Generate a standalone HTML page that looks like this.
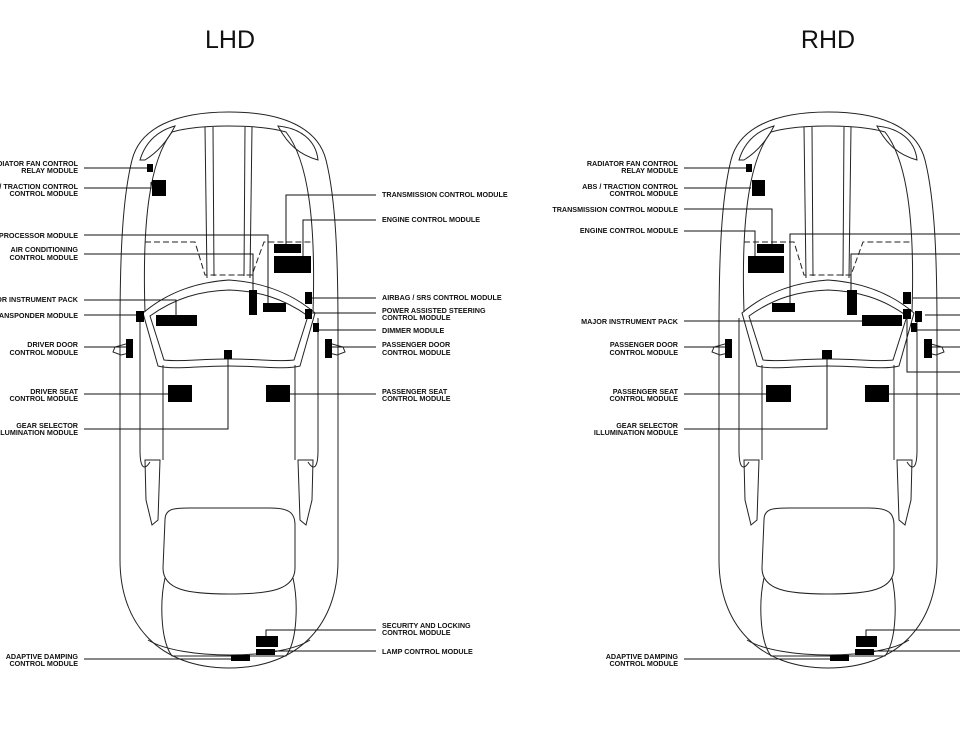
<!DOCTYPE html>
<html><head><meta charset="utf-8"><style>
html,body{margin:0;padding:0;background:#fff;}
svg{display:block;}
text{font-family:"Liberation Sans",sans-serif;font-size:7.2px;font-weight:bold;fill:#111;}
.t{font-size:25px;font-weight:normal;fill:#111;}
</style></head><body>
<svg width="960" height="733" viewBox="0 0 960 733" xmlns="http://www.w3.org/2000/svg">
<defs>
<g id="car" fill="none" stroke="#222" stroke-width="1">
<path d="M229,112 C175,112 140,128 132,160 C122,200 120,260 120,330 L120,560 C120,625 160,668 229,668 C298,668 338,625 338,560 L338,330 C338,260 336,200 326,160 C318,128 283,112 229,112 Z"/>
<path d="M145,312 C142,220 150,160 172,132 C200,124 258,124 286,132 C308,160 316,220 313,312"/>
<path d="M140,160 C146,140 160,130 175,126 C168,140 158,152 145,160 Z"/>
<path d="M278,126 C300,128 316,140 318,160 C300,155 288,145 278,126 Z"/>
<path d="M205,127 L207,278 M213,127 L214,276 M245,127 L244,276 M252,127 L250,278"/>
<path d="M145,242 L195,242 L205,275 L252,275 L264,242 L313,242" stroke-dasharray="6,3"/>
<path d="M143,313 C170,290 200,282 229,280 C258,282 288,290 315,313 L300,366 C285,370 260,366 229,366 C198,366 172,370 158,366 Z"/>
<path d="M150,316 C175,298 200,291 229,290 C258,291 283,298 308,316 L294,360 C280,362 258,359 229,359 C200,359 178,362 164,360 Z"/>
<path d="M133,342 L115,347 L113,352 L121,355 L133,352 M325,342 L343,347 L345,352 L337,355 L325,352"/>
<path d="M140,318 L140,450 C140,470 145,470 150,462 M318,318 L318,450 C318,470 313,470 308,462"/>
<path d="M145,460 L160,460 L158,520 L152,525 L146,500 Z M313,460 L298,460 L300,520 L306,525 L312,500 Z"/>
<path d="M163,365 L163,460 M295,365 L295,460"/>
<path d="M165,520 C165,508 175,508 190,508 L270,508 C288,508 295,512 295,525 L295,568 C295,590 270,594 229,594 C188,594 163,590 163,568 Z"/>
<path d="M165,578 C160,600 160,640 172,656 L286,656 C298,640 298,600 293,578"/>
<path d="M148,640 C180,660 280,660 310,640"/>
</g>
</defs>
<text class="t" x="230" y="48" text-anchor="middle">LHD</text>
<text class="t" x="828" y="48" text-anchor="middle">RHD</text>
<use href="#car"/>
<use href="#car" transform="translate(599,0)"/>
<g fill="#000">
<rect x="147" y="164" width="6" height="8"/><rect x="152" y="180" width="14" height="16"/>
<rect x="274" y="244" width="27" height="9"/><rect x="274" y="256" width="37" height="17"/>
<rect x="249" y="290" width="8" height="25"/><rect x="263" y="303" width="23" height="9"/>
<rect x="156" y="315" width="41" height="11"/><rect x="136" y="311" width="8" height="11"/>
<rect x="305" y="292" width="7" height="12"/><rect x="305" y="309" width="7" height="10"/>
<rect x="313" y="323" width="6" height="9"/><rect x="126" y="339" width="7" height="19"/>
<rect x="325" y="339" width="7" height="19"/><rect x="224" y="350" width="8" height="9"/>
<rect x="168" y="385" width="24" height="17"/><rect x="266" y="385" width="24" height="17"/>
<rect x="256" y="636" width="22" height="11"/><rect x="256" y="649" width="19" height="6"/>
<rect x="231" y="655" width="19" height="6"/>
<rect x="746" y="164" width="6" height="8"/><rect x="752" y="180" width="13" height="16"/>
<rect x="757" y="244" width="27" height="9"/><rect x="748" y="256" width="36" height="17"/>
<rect x="772" y="303" width="23" height="9"/><rect x="847" y="290" width="10" height="25"/>
<rect x="862" y="315" width="40" height="11"/><rect x="903" y="292" width="8" height="12"/>
<rect x="903" y="309" width="8" height="10"/><rect x="915" y="311" width="7" height="11"/>
<rect x="911" y="323" width="6" height="9"/><rect x="725" y="339" width="7" height="19"/>
<rect x="924" y="339" width="8" height="19"/><rect x="822" y="350" width="10" height="9"/>
<rect x="766" y="385" width="25" height="17"/><rect x="865" y="385" width="24" height="17"/>
<rect x="856" y="636" width="21" height="11"/><rect x="855" y="649" width="19" height="6"/>
<rect x="830" y="655" width="19" height="6"/>
</g>
<g fill="none" stroke="#111" stroke-width="1">
<path d="M84,168 H147 M84,188 H151 V182 M84,235 H268 V303 M84,254 H253 V290 M84,300 H176 V315 M84,315 H136 M84,347 H126 M84,394 H168 M84,429 H228 V359"/>
<path d="M376,195 H286 V244 M376,220 H303 V256 M376,298 H312 M376,313 H312 M376,330 H319 M376,347 H332 M376,394 H290 M376,630 H266 V636 M376,651 H275 M84,659 H231"/>
<path d="M684,168 H746 M684,188 H751 M684,209 H772 V244 M684,231 H755 V256 M684,321 H862 M684,347 H725 M684,394 H766 M684,429 H827 V359 M684,659 H830"/>
<path d="M960,234 H790 V303 M960,254 H851 V290 M960,298 H913 M960,315 H925 M960,330 H917 M960,347 H932 M960,372 H907 V318 M960,394 H889 M960,630 H866 V636 M960,651 H874"/>
</g>
<g text-anchor="end">
<text x="78" y="166">RADIATOR FAN CONTROL</text><text x="78" y="173">RELAY MODULE</text>
<text x="78" y="189">ABS / TRACTION CONTROL</text><text x="78" y="196">CONTROL MODULE</text>
<text x="78" y="238">BODY PROCESSOR MODULE</text>
<text x="78" y="252">AIR CONDITIONING</text><text x="78" y="260">CONTROL MODULE</text>
<text x="78" y="302">MAJOR INSTRUMENT PACK</text>
<text x="78" y="318">TRANSPONDER MODULE</text>
<text x="78" y="347">DRIVER DOOR</text><text x="78" y="355">CONTROL MODULE</text>
<text x="78" y="394">DRIVER SEAT</text><text x="78" y="401">CONTROL MODULE</text>
<text x="78" y="428">GEAR SELECTOR</text><text x="78" y="435">ILLUMINATION MODULE</text>
<text x="78" y="659">ADAPTIVE DAMPING</text><text x="78" y="666">CONTROL MODULE</text>
<text x="678" y="166">RADIATOR FAN CONTROL</text><text x="678" y="173">RELAY MODULE</text>
<text x="678" y="189">ABS / TRACTION CONTROL</text><text x="678" y="196">CONTROL MODULE</text>
<text x="678" y="212">TRANSMISSION CONTROL MODULE</text>
<text x="678" y="233">ENGINE CONTROL MODULE</text>
<text x="678" y="324">MAJOR INSTRUMENT PACK</text>
<text x="678" y="347">PASSENGER DOOR</text><text x="678" y="355">CONTROL MODULE</text>
<text x="678" y="394">PASSENGER SEAT</text><text x="678" y="401">CONTROL MODULE</text>
<text x="678" y="428">GEAR SELECTOR</text><text x="678" y="435">ILLUMINATION MODULE</text>
<text x="678" y="659">ADAPTIVE DAMPING</text><text x="678" y="666">CONTROL MODULE</text>
</g>
<g>
<text x="382" y="197">TRANSMISSION CONTROL MODULE</text>
<text x="382" y="222">ENGINE CONTROL MODULE</text>
<text x="382" y="300">AIRBAG / SRS CONTROL MODULE</text>
<text x="382" y="313">POWER ASSISTED STEERING</text><text x="382" y="320">CONTROL MODULE</text>
<text x="382" y="333">DIMMER MODULE</text>
<text x="382" y="347">PASSENGER DOOR</text><text x="382" y="355">CONTROL MODULE</text>
<text x="382" y="394">PASSENGER SEAT</text><text x="382" y="401">CONTROL MODULE</text>
<text x="382" y="628">SECURITY AND LOCKING</text><text x="382" y="635">CONTROL MODULE</text>
<text x="382" y="654">LAMP CONTROL MODULE</text>
</g>
</svg>
</body></html>
